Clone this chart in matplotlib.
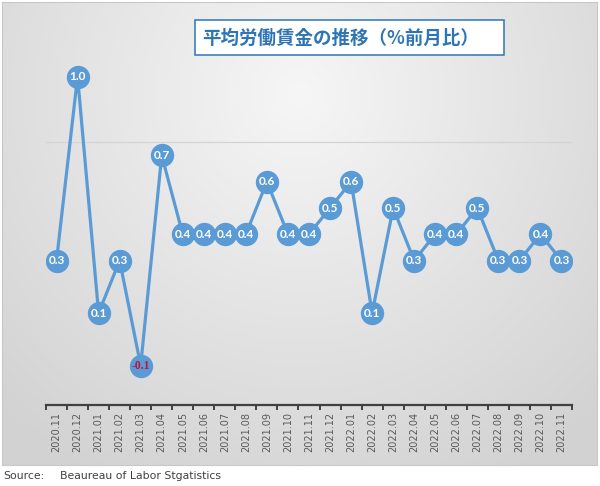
import numpy as np
import matplotlib
matplotlib.use("Agg")
import matplotlib.pyplot as plt
from matplotlib.patches import Rectangle

# data
months = ["2020.11", "2020.12", "2021.01", "2021.02", "2021.03", "2021.04",
          "2021.05", "2021.06", "2021.07", "2021.08", "2021.09", "2021.10",
          "2021.11", "2021.12", "2022.01", "2022.02", "2022.03", "2022.04",
          "2022.05", "2022.06", "2022.07", "2022.08", "2022.09", "2022.10",
          "2022.11"]
values = [0.3, 1.0, 0.1, 0.3, -0.1, 0.7, 0.4, 0.4, 0.4, 0.4, 0.6, 0.4,
          0.4, 0.5, 0.6, 0.1, 0.5, 0.3, 0.4, 0.4, 0.5, 0.3, 0.3, 0.4, 0.3]

title = "平均労働賃金の推移（%前月比）"
source_label = "Source:"
source_text = "Beaureau of Labor Stgatistics"

W, H = 600, 486
blue = "#5B9BD5"

fig = plt.figure(figsize=(W / 100, H / 100), dpi=100)
fig.patch.set_facecolor("white")

# chart area with soft radial gradient
bg = fig.add_axes([2 / W, (H - 465) / H, 595 / W, 463 / H], zorder=0)
gx, gy = np.meshgrid(np.linspace(0, 1, 300), np.linspace(0, 1, 240))
d = np.sqrt(((gx - 0.5) / 0.72) ** 2 + ((gy - 0.8) / 0.95) ** 2)
d = np.clip(d, 0, 1)
shade = 0.965 - 0.14 * d
img = np.dstack([shade, shade, shade])
bg.imshow(img, origin="lower", extent=[0, 1, 0, 1], aspect="auto")
bg.set_xticks([])
bg.set_yticks([])
for s in bg.spines.values():
    s.set_color("#C8C8C8")
    s.set_linewidth(0.8)

# main plot
ax = fig.add_axes([46 / W, (H - 405) / H, 526 / W, 394 / H], zorder=1)
ax.patch.set_alpha(0)
x = np.arange(len(values))
ax.axhline(0.75, color="#D4D4D4", lw=0.9, zorder=1)
ax.plot(x, values, color=blue, lw=2.3, marker="o", markersize=15.8,
        markerfacecolor=blue, markeredgecolor=blue, zorder=3)
for xi, v in zip(x, values):
    if v < 0:
        ax.text(xi, v, f"{v:.1f}", ha="center", va="center", fontsize=8.5,
                color="#C0143C", fontweight="bold", family="Liberation Serif",
                zorder=4)
    else:
        ax.text(xi, v, f"{v:.1f}", ha="center", va="center", fontsize=8.5,
                color="white", fontweight="bold", family="Lato", zorder=4)

ax.set_xlim(-0.5, len(values) - 0.5)
ax.set_ylim(-0.25, 1.25)
ax.set_yticks([])
ax.set_xticks(x)
ax.set_xticklabels(months, rotation=90, fontsize=7, color="#595959")
ax.set_xticks(np.arange(-0.5, len(values), 1.0), minor=True)
ax.tick_params(axis="x", which="major", length=0, pad=5)
ax.tick_params(axis="x", which="minor", length=3.5, width=1.4, color="#404040",
               direction="out")
for side in ["left", "right", "top"]:
    ax.spines[side].set_visible(False)
ax.spines["bottom"].set_color("#404040")
ax.spines["bottom"].set_linewidth(1.6)

# title box
fig.patches.append(Rectangle((195 / W, (H - 55) / H), 309 / W, 35 / H,
                             transform=fig.transFigure, facecolor="white",
                             edgecolor="#2E75B6", lw=1.1, zorder=5))
fig.text(341 / W, (H - 38) / H, title, ha="center", va="center",
         fontsize=13.3, fontweight="bold", color="#2E75B6",
         family=["Noto Sans CJK JP", "DejaVu Sans"], zorder=6)

# source line
fig.text(3 / W, (H - 476) / H, source_label, ha="left", va="center",
         fontsize=7.8, color="#404040")
fig.text(60 / W, (H - 476) / H, source_text, ha="left", va="center",
         fontsize=7.8, color="#404040")

fig.savefig("out.png", dpi=100)
